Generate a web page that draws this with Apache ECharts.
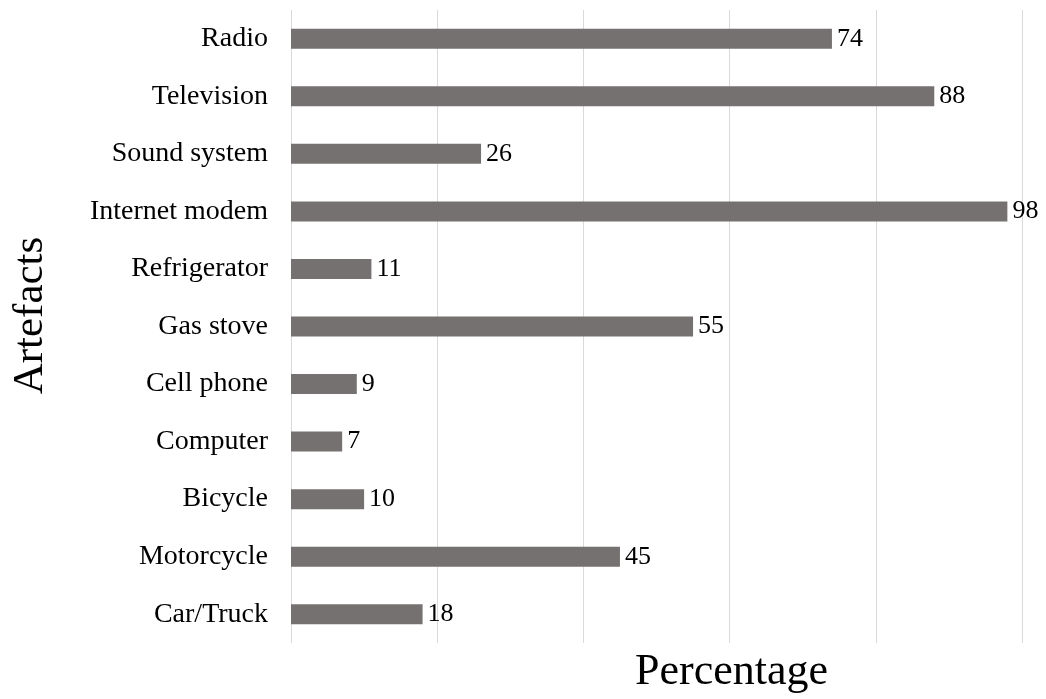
<!DOCTYPE html>
<html>
<head>
<meta charset="utf-8">
<script src="https://cdn.jsdelivr.net/npm/echarts@6/dist/echarts.min.js"></script>
<style>
  html, body { margin: 0; padding: 0; background: #fff; }
  #chart { width: 1046px; height: 699px; }
</style>
</head>
<body>
<div id="chart"></div>
<script>
// Household artefacts and share of respondents owning each (%)
const categories = ['Radio', 'Television', 'Sound system', 'Internet modem', 'Refrigerator',
  'Gas stove', 'Cell phone', 'Computer', 'Bicycle', 'Motorcycle', 'Car/Truck'];
const percentages = [74, 88, 26, 98, 11, 55, 9, 7, 10, 45, 18];
const xTicks = { min: 0, max: 100, interval: 20 };

const serif = '"Liberation Serif", "DejaVu Serif", serif';

const chart = echarts.init(document.getElementById('chart'), null, { renderer: 'canvas' });
chart.setOption({
  backgroundColor: '#ffffff',
  animation: false,
  grid: { left: 291, right: 24, top: 10, bottom: 56, containLabel: false, outerBoundsMode: 'none' },
  xAxis: {
    type: 'value',
    min: xTicks.min,
    max: xTicks.max,
    interval: xTicks.interval,
    name: 'Percentage',
    nameLocation: 'middle',
    nameGap: 7,
    nameTextStyle: {
      fontFamily: serif, fontSize: 44, color: '#000',
      verticalAlign: 'top', padding: [0, 0, 0, 150]
    },
    axisLine: { show: false },
    axisTick: { show: false },
    axisLabel: { show: false },
    splitLine: { show: true, lineStyle: { color: '#d9d9d9', width: 1 } }
  },
  yAxis: {
    type: 'category',
    data: categories,
    inverse: true,
    name: 'Artefacts',
    nameLocation: 'middle',
    nameRotate: 90,
    nameGap: 239,
    nameTextStyle: { fontFamily: serif, fontSize: 43, color: '#000', padding: [0, 0, 0, 22] },
    axisLine: { show: false },
    axisTick: { show: false },
    axisLabel: { fontFamily: serif, fontSize: 28, color: '#000', margin: 23 },
    splitLine: { show: false }
  },
  series: [{
    type: 'bar',
    data: percentages,
    barWidth: 20,
    itemStyle: { color: '#767171' },
    label: {
      show: true,
      position: 'right',
      distance: 5,
      fontFamily: serif,
      fontSize: 26,
      color: '#000'
    }
  }]
});
</script>
</body>
</html>
